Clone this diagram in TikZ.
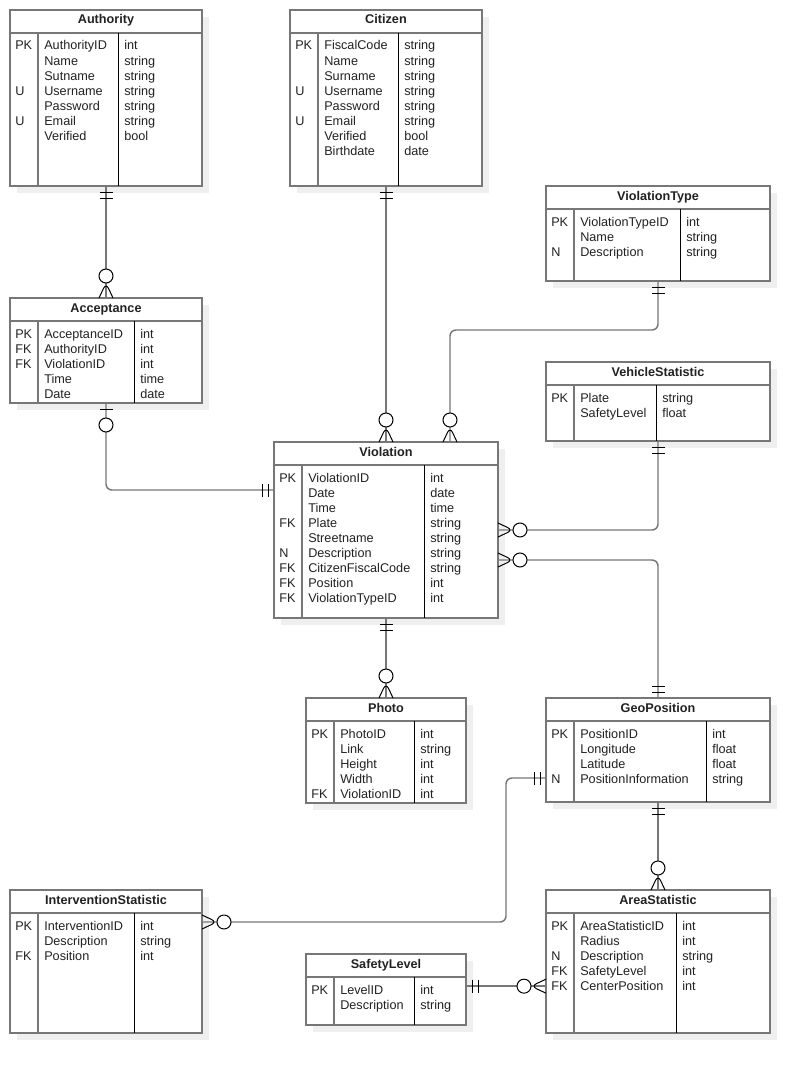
\documentclass[tikz,border=0pt]{standalone}
\usepackage{fontspec}
\setmainfont{Liberation Sans}
\usetikzlibrary{shadows,decorations.markings}

\definecolor{linegray}{HTML}{777777}
\definecolor{shadegray}{HTML}{EFEFEF}
\definecolor{textgray}{HTML}{222222}

\tikzset{
  entbox/.style={draw=linegray, line width=1.5pt, fill=white, anchor=north west,
    outer sep=0pt, inner sep=0pt,
    drop shadow={shadow xshift=5.25pt, shadow yshift=-5.25pt, fill=shadegray, opacity=1}},
  entline/.style={draw=linegray, line width=1.5pt},
  typeline/.style={draw=black, line width=0.65pt},
  enttitle/.style={anchor=base, inner sep=0pt, font=\fontsize{9.5}{11}\selectfont\bfseries, text=textgray},
  entcell/.style={anchor=base west, inner sep=0pt, font=\fontsize{9.5}{11}\selectfont, text=textgray},
  conn/.style={draw=linegray, line width=1.1pt, rounded corners=4.5pt},
  markline/.style={draw=black, line width=0.75pt},
  mone start/.style={postaction={decorate, decoration={markings,
    mark=at position 0 with {\draw[markline] (6,-6.5) -- (6,6.5) (12,-6.5) -- (12,6.5);}}}},
  mone end/.style={postaction={decorate, decoration={markings,
    mark=at position 1 with {\draw[markline] (-6,-6.5) -- (-6,6.5) (-12,-6.5) -- (-12,6.5);}}}},
  zone start/.style={postaction={decorate, decoration={markings,
    mark=at position 0 with {\draw[markline] (6,-6.5) -- (6,6.5);
      \draw[markline, fill=white] (22,0) circle[radius=7];}}}},
  zmany start/.style={postaction={decorate, decoration={markings,
    mark=at position 0 with {\draw[markline] (0,7) -- (15,0) -- (0,-7);
      \draw[markline, fill=white] (22,0) circle[radius=7];}}}},
  zmany end/.style={postaction={decorate, decoration={markings,
    mark=at position 1 with {\draw[markline] (0,7) -- (-15,0) -- (0,-7);
      \draw[markline, fill=white] (-22,0) circle[radius=7];}}}},
}

% name, top left, width, height, type column, title, rows
\newcommand{\erentity}[7]{%
  \begin{scope}[shift={#2}]
    \node[entbox, minimum width=#3*0.75pt, minimum height=#4*0.75pt] (#1) at (0,0) {};
    \draw[entline] (0,23) -- (#3,23);
    \draw[entline] (28,23) -- (28,#4);
    \draw[typeline] (#5,23) -- (#5,#4);
    \node[enttitle] (#1-title) at (#3/2,14) {#6};
    \foreach \k/\f/\t [count=\i] in {#7} {
      \node[entcell] (#1-k\i) at (5,25+15*\i) {\k};
      \node[entcell] (#1-f\i) at (34,25+15*\i) {\f};
      \node[entcell] (#1-t\i) at (#5+6,25+15*\i) {\t};
    }
  \end{scope}}

\begin{document}
\begin{tikzpicture}[x=0.75pt, y=-0.75pt]
  \useasboundingbox (0,0) rectangle (810,1074);

  % Draw the entities
  \erentity{auth}{(10,10)}{192}{176}{108}{Authority}{PK/AuthorityID/int, /Name/string, /Sutname/string, U/Username/string, /Password/string, U/Email/string, /Verified/bool}
  \erentity{cit}{(290,10)}{192}{176}{108}{Citizen}{PK/FiscalCode/string, /Name/string, /Surname/string, U/Username/string, /Password/string, U/Email/string, /Verified/bool, /Birthdate/date}
  \erentity{vtype}{(546,186)}{224}{95}{134}{ViolationType}{PK/ViolationTypeID/int, /Name/string, N/Description/string}
  \erentity{acc}{(10,298)}{192}{105}{124}{Acceptance}{PK/AcceptanceID/int, FK/AuthorityID/int, FK/ViolationID/int, /Time/time, /Date/date}
  \erentity{vstat}{(546,362)}{224}{79}{110}{VehicleStatistic}{PK/Plate/string, /SafetyLevel/float}
  \erentity{viol}{(274,442)}{224}{176}{150}{Violation}{PK/ViolationID/int, /Date/date, /Time/time, FK/Plate/string, /Streetname/string, N/Description/string, FK/CitizenFiscalCode/string, FK/Position/int, FK/ViolationTypeID/int}
  \erentity{photo}{(306,698)}{160}{105}{108}{Photo}{PK/PhotoID/int, /Link/string, /Height/int, /Width/int, FK/ViolationID/int}
  \erentity{geo}{(546,698)}{224}{104}{160}{GeoPosition}{PK/PositionID/int, /Longitude/float, /Latitude/float, N/PositionInformation/string}
  \erentity{inter}{(10,890)}{192}{143}{124}{InterventionStatistic}{PK/InterventionID/int, /Description/string, FK/Position/int}
  \erentity{area}{(546,890)}{224}{143}{130}{AreaStatistic}{PK/AreaStatisticID/int, /Radius/int, N/Description/string, FK/SafetyLevel/int, FK/CenterPosition/int}
  \erentity{safety}{(306,954)}{160}{71}{108}{SafetyLevel}{PK/LevelID/int, /Description/string}

  % Draw the relations
  \draw[conn, mone start, zmany end] (auth.south) -- (acc.north);
  \draw[conn, mone start, zmany end] (cit.south) -- (viol.north);
  \draw[conn, mone start, zmany end] (vtype.south) -- ++(0,49) -| ([xshift=132pt]viol.north west);
  \draw[conn, zone start, mone end] (acc.south) |- ([yshift=30pt]viol.west);
  \draw[conn, mone start, zmany end] (vstat.south) |- (viol.east);
  \draw[conn, zmany start, mone end] ([yshift=-22.5pt]viol.east) -| (geo.north);
  \draw[conn, mone start, zmany end] (viol.south) -- (photo.north);
  \draw[conn, mone start, zmany end] ([yshift=-21pt]geo.west) -- ++(-40,0) |- ([yshift=-24pt]inter.north east);
  \draw[conn, mone start, zmany end] (geo.south) -- (area.north);
  \draw[conn, mone start, zmany end] ([yshift=2.5pt]safety.east) -- ([yshift=2.5pt]safety.east -| area.west);
\end{tikzpicture}
\end{document}
